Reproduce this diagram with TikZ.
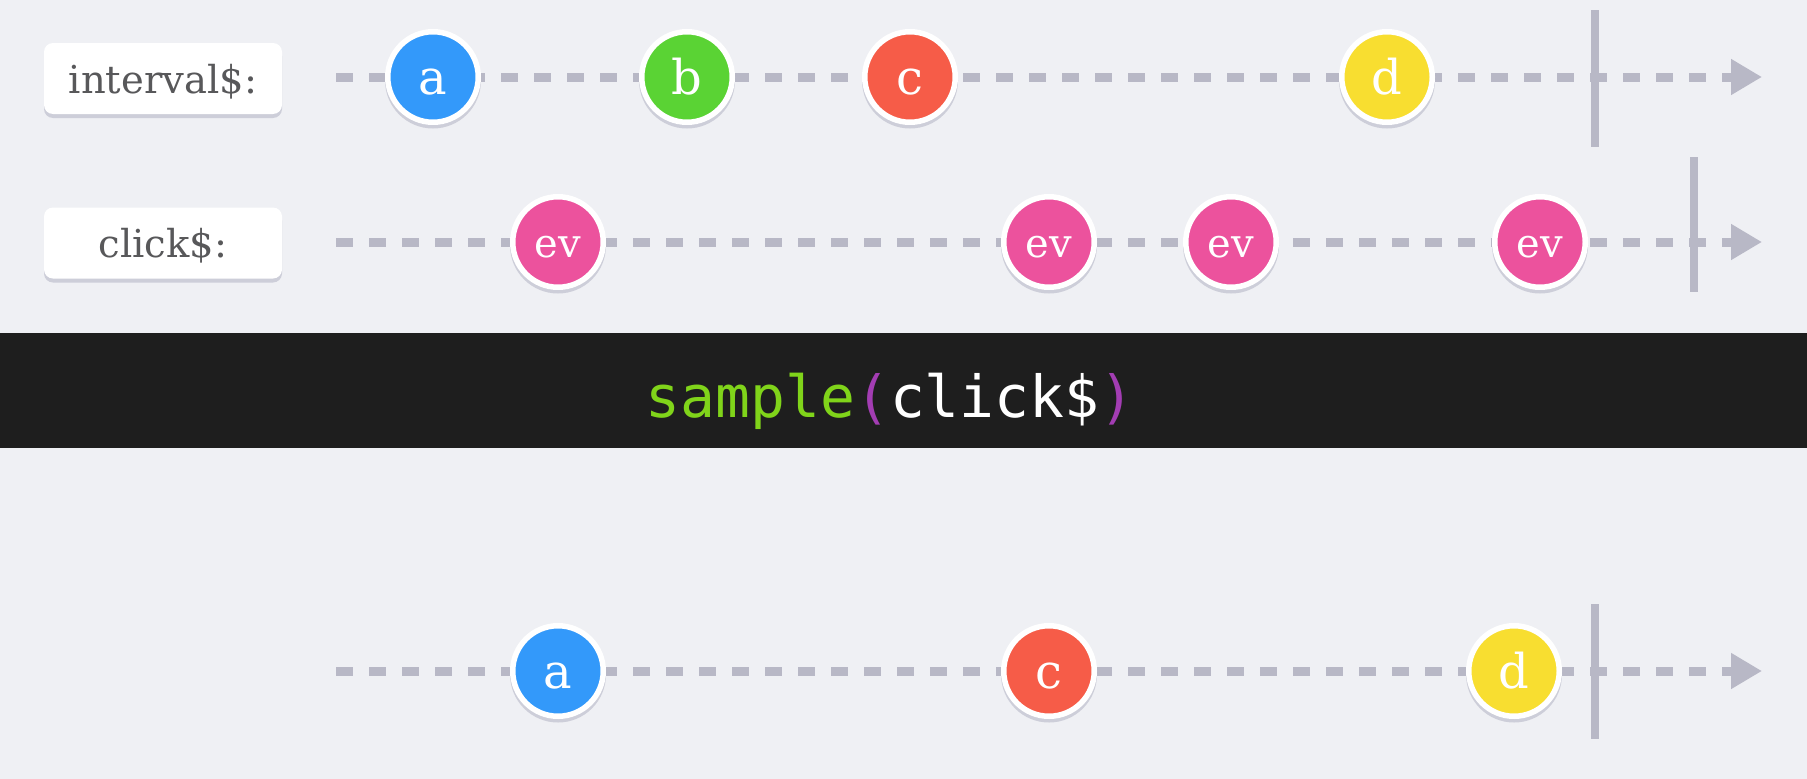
\documentclass[tikz,border=0pt]{standalone}
\usepackage{fontspec}
\usetikzlibrary{arrows.meta}
\newfontfamily\lblfont{DejaVu Serif}
\newfontfamily\codefont{DejaVu Sans Mono}
\definecolor{bgcol}{HTML}{EFF0F4}
\definecolor{linegrey}{HTML}{B8B8C6}
\definecolor{shadowcol}{HTML}{CDCED9}
\definecolor{labeltext}{HTML}{58585A}
\definecolor{bandcol}{HTML}{1E1E1E}
\definecolor{codegreen}{HTML}{80D41A}
\definecolor{codepurple}{HTML}{A33DB3}
\definecolor{mblue}{HTML}{3399FA}
\definecolor{mgreen}{HTML}{5AD334}
\definecolor{mred}{HTML}{F65C48}
\definecolor{myellow}{HTML}{F8DE30}
\definecolor{mpink}{HTML}{EC529D}
\tikzset{
  timeline/.style={draw=linegrey, line width=9pt, dash pattern=on 17pt off 16pt,
    -{Triangle[length=31pt,width=34pt]}},
  endbar/.style={draw=linegrey, line width=8pt},
  marble/.style={circle, minimum size=90.5pt, inner sep=0pt, fill=#1, draw=white,
    line width=5.5pt, text=white, font=\lblfont\fontsize{48}{48}\selectfont,
    text height=34pt, text depth=0pt,
    preaction={fill=shadowcol, draw=shadowcol, transform canvas={yshift=-3.5pt}}},
  evmarble/.style={marble=mpink, font=\lblfont\fontsize{40}{40}\selectfont,
    text height=30pt, text depth=0pt},
  streamlabel/.style={rounded corners=9pt, fill=white, minimum width=238pt,
    minimum height=71pt, inner sep=0pt, text=labeltext,
    font=\lblfont\fontsize{38.5}{38.5}\selectfont, text height=29pt, text depth=0pt,
    preaction={fill=shadowcol, transform canvas={yshift=-4pt}}},
  opband/.style={fill=bandcol, minimum width=1807pt, minimum height=115pt,
    inner sep=0pt, outer sep=0pt},
}
\begin{document}
\begin{tikzpicture}[x=1pt,y=-1pt]
  % canvas
  \fill[bgcol] (0,0) rectangle (1807,779);
  \useasboundingbox (0,0) rectangle (1807,779);

  % time axes
  \coordinate (r1s) at (336,77);   \coordinate (r1e) at (1762,77);
  \coordinate (r2s) at (336,242);  \coordinate (r2e) at (1762,242);
  \coordinate (r3s) at (336,671);  \coordinate (r3e) at (1762,671);
  \draw[timeline] (r1s) -- (r1e);
  \draw[timeline] (r2s) -- (r2e);
  \draw[timeline] (r3s) -- (r3e);

  % completion bars
  \draw[endbar] (1595,10) -- (1595,147);
  \draw[endbar] (1694,157) -- (1694,292);
  \draw[endbar] (1595,604) -- (1595,739);

  % stream labels
  \node[streamlabel] (lblint) at (163,78.5) {interval\$:};
  \node[streamlabel] (lblclk) at (163,243) {click\$:};

  % interval$ emissions
  \node[marble=mblue]   (ia) at (433,77)  {a};
  \node[marble=mgreen]  (ib) at (687,77)  {b};
  \node[marble=mred]    (ic) at (910,77)  {c};
  \node[marble=myellow] (id) at (1387,77) {d};

  % click$ emissions
  \node[evmarble] (c1) at (558,242)  {ev};
  \node[evmarble] (c2) at (1049,242) {ev};
  \node[evmarble] (c3) at (1231,242) {ev};
  \node[evmarble] (c4) at (1540,242) {ev};

  % operator band
  \node[opband] (band) at (903.5,390.5) {};
  \node[anchor=base, inner sep=0pt, font=\codefont\fontsize{58}{58}\selectfont]
    (optxt) at (890,417)
    {\textcolor{codegreen}{sample}\textcolor{codepurple}{(}\textcolor{white}{click\$}\textcolor{codepurple}{)}};

  % result emissions
  \node[marble=mblue]   (oa) at (558,671)  {a};
  \node[marble=mred]    (oc) at (1049,671) {c};
  \node[marble=myellow] (od) at (1514,671) {d};
\end{tikzpicture}
\end{document}
